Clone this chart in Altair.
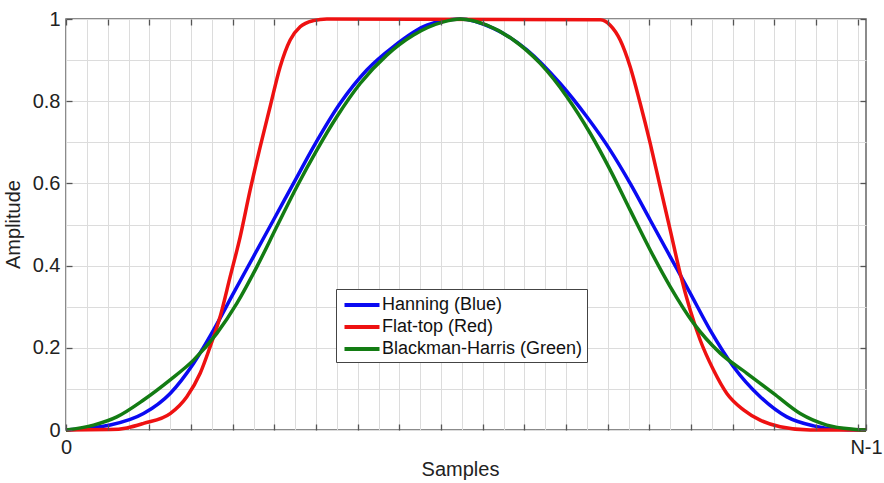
import altair as alt
import pandas as pd

# Sample axis: 0 .. N-1 (N-1 shown as 192 units wide)
N_MINUS_1 = 192

hann_x = [0, 10.6, 18.6, 25.0, 30.6, 35.4, 40.2, 45.0, 49.8, 54.6, 59.4, 65.8, 72.2, 78.6, 86.6, 94.6,
          102.6, 110.6, 118.6, 125.0, 130.6, 135.4, 140.2, 145.0, 149.8, 154.6, 160.2, 166.6, 173.0, 179.4, 186.6, 192]
hann_y = [0, 0.012, 0.04, 0.089, 0.162, 0.243, 0.333, 0.422, 0.511, 0.6, 0.689, 0.795, 0.876, 0.933, 0.985, 1.0,
          0.977, 0.925, 0.843, 0.762, 0.681, 0.6, 0.511, 0.422, 0.333, 0.243, 0.154, 0.081, 0.032, 0.01, 0.001, 0]

flat_x = [0, 10.6, 14.6, 18.6, 25.0, 29.0, 32.2, 34.6, 37.0, 39.4, 41.8, 44.2, 46.6, 49.0, 51.4, 53.8, 56.2, 59.4, 62.6,
          128.2, 130.6, 133.0, 135.4, 137.8, 140.2, 142.6, 145.0, 147.4, 149.8, 152.2, 155.4, 158.6, 162.6, 166.6, 171.4, 178.6, 192]
flat_y = [0, 0.001, 0.005, 0.016, 0.04, 0.081, 0.138, 0.203, 0.276, 0.373, 0.47, 0.584, 0.689, 0.787, 0.884, 0.949, 0.981, 0.996, 1.0,
          0.998, 0.985, 0.949, 0.884, 0.795, 0.698, 0.592, 0.487, 0.381, 0.292, 0.219, 0.146, 0.089, 0.049, 0.024, 0.008, 0.0, 0]

bh_x = [0, 6.6, 12.2, 18.6, 25.0, 30.6, 36.2, 41.0, 45.8, 50.6, 55.4, 60.2, 65.0, 70.6, 77.0, 83.4, 90.6, 94.6,
        101.0, 107.4, 113.8, 120.2, 125.8, 130.6, 135.4, 140.2, 145.0, 150.6, 157.0, 163.4, 169.8, 176.2, 182.6, 189.0, 192]
bh_y = [0, 0.012, 0.032, 0.073, 0.122, 0.17, 0.235, 0.308, 0.397, 0.495, 0.592, 0.681, 0.762, 0.843, 0.912, 0.961, 0.993, 1.0,
        0.985, 0.949, 0.892, 0.811, 0.722, 0.633, 0.535, 0.438, 0.349, 0.26, 0.187, 0.138, 0.089, 0.04, 0.012, 0.002, 0]

series_names = ["Hanning (Blue)", "Flat-top (Red)", "Blackman-Harris (Green)"]
series_colors = ["#0a0af2", "#ee1111", "#137c13"]

x_tick_values = list(range(0, 191, 10))
x_grid_values = [v * 5 for v in range(0, 39)]
y_tick_values = [0, 0.2, 0.4, 0.6, 0.8, 1.0]
y_grid_values = [round(v * 0.1, 1) for v in range(0, 11)]

rows = []
for name, xs, ys in zip(series_names, [hann_x, flat_x, bh_x], [hann_y, flat_y, bh_y]):
    for i, (a, b) in enumerate(zip(xs, ys)):
        rows.append({"series": name, "n": a, "amp": b, "order": i})
df = pd.DataFrame(rows)

FONT = "Liberation Sans"
xscale = alt.Scale(domain=[0, N_MINUS_1], nice=False, zero=False)
yscale = alt.Scale(domain=[0, 1], nice=False)

base = alt.Chart(df)

grid_layer = base.mark_line(strokeOpacity=0).encode(
    x=alt.X("n:Q", scale=xscale, axis=alt.Axis(
        orient="bottom", grid=True, values=x_grid_values, gridColor="#dcdcdc", gridWidth=1,
        ticks=False, labels=False, domain=False, title=None, zindex=0)),
    y=alt.Y("amp:Q", scale=yscale, axis=alt.Axis(
        orient="left", grid=True, values=y_grid_values, gridColor="#dcdcdc", gridWidth=1,
        ticks=False, labels=False, domain=False, title=None, zindex=0)),
    detail="series:N",
)

lines = base.mark_line(strokeWidth=3.5, interpolate="monotone").encode(
    x=alt.X("n:Q", scale=xscale, axis=alt.Axis(
        orient="bottom", grid=False, values=x_tick_values + [N_MINUS_1], domain=False,
        offset=-6, tickSize=6, tickColor="#555555", tickWidth=1.3,
        labelExpr="datum.value == 0 ? '0' : (datum.value == %d ? 'N-1' : '')" % N_MINUS_1,
        labelFont=FONT, labelFontSize=20, labelColor="#222222", labelPadding=7,
        labelFlush=False, labelOverlap=False,
        title="Samples", titleFont=FONT, titleFontSize=20, titleFontWeight="normal",
        titleColor="#222222", titleX=394, titleY=45, titleBaseline="middle", titleAlign="center",
        zindex=1)),
    y=alt.Y("amp:Q", scale=yscale, axis=alt.Axis(
        orient="left", grid=False, values=y_tick_values, domain=False,
        offset=-6, tickSize=6, tickColor="#555555", tickWidth=1.3,
        labelExpr="datum.value == 0 ? '0' : (datum.value == 1 ? '1' : format(datum.value, '.1f'))",
        labelFont=FONT, labelFontSize=20, labelColor="#222222", labelPadding=6,
        labelFlush=False, labelOverlap=False,
        title="Amplitude", titleFont=FONT, titleFontSize=20, titleFontWeight="normal",
        titleColor="#222222", titleX=-59, titleY=205, titleAngle=-90,
        titleBaseline="middle", titleAlign="center", zindex=1)),
    color=alt.Color("series:N", scale=alt.Scale(domain=series_names, range=series_colors),
                    sort=series_names,
                    legend=alt.Legend(
                        orient="none", legendX=270, legendY=270, title=None,
                        fillColor="white", strokeColor="#444444", padding=4,
                        labelFont=FONT, labelFontSize=18, labelColor="#111111", labelLimit=0,
                        symbolType="M-1.75,0H1.75", symbolSize=400, symbolStrokeWidth=4,
                        symbolOffset=10, labelOffset=8, rowPadding=1)),
    order="order:Q",
)

frame_ticks = base.mark_line(strokeOpacity=0).encode(
    x=alt.X("n:Q", scale=xscale, axis=alt.Axis(
        orient="top", grid=False, values=x_tick_values, domain=False, labels=False,
        offset=-6, tickSize=6, tickColor="#555555", tickWidth=1.3, title=None, zindex=1)),
    y=alt.Y("amp:Q", scale=yscale, axis=alt.Axis(
        orient="right", grid=False, values=y_tick_values, domain=False, labels=False,
        offset=-6, tickSize=6, tickColor="#555555", tickWidth=1.3, title=None, zindex=1)),
    detail="series:N",
)

chart = alt.layer(grid_layer, lines, frame_ticks).resolve_axis(
    x="independent", y="independent"
).properties(
    width=800, height=411,
    autosize=alt.AutoSizeParams(type="none"),
    padding={"left": 66, "top": 19, "right": 18, "bottom": 53},
    background="white",
).configure_view(
    stroke="#666666", strokeWidth=1.5
)

chart.save("out.html", embed_options={"renderer": "svg", "actions": False})
